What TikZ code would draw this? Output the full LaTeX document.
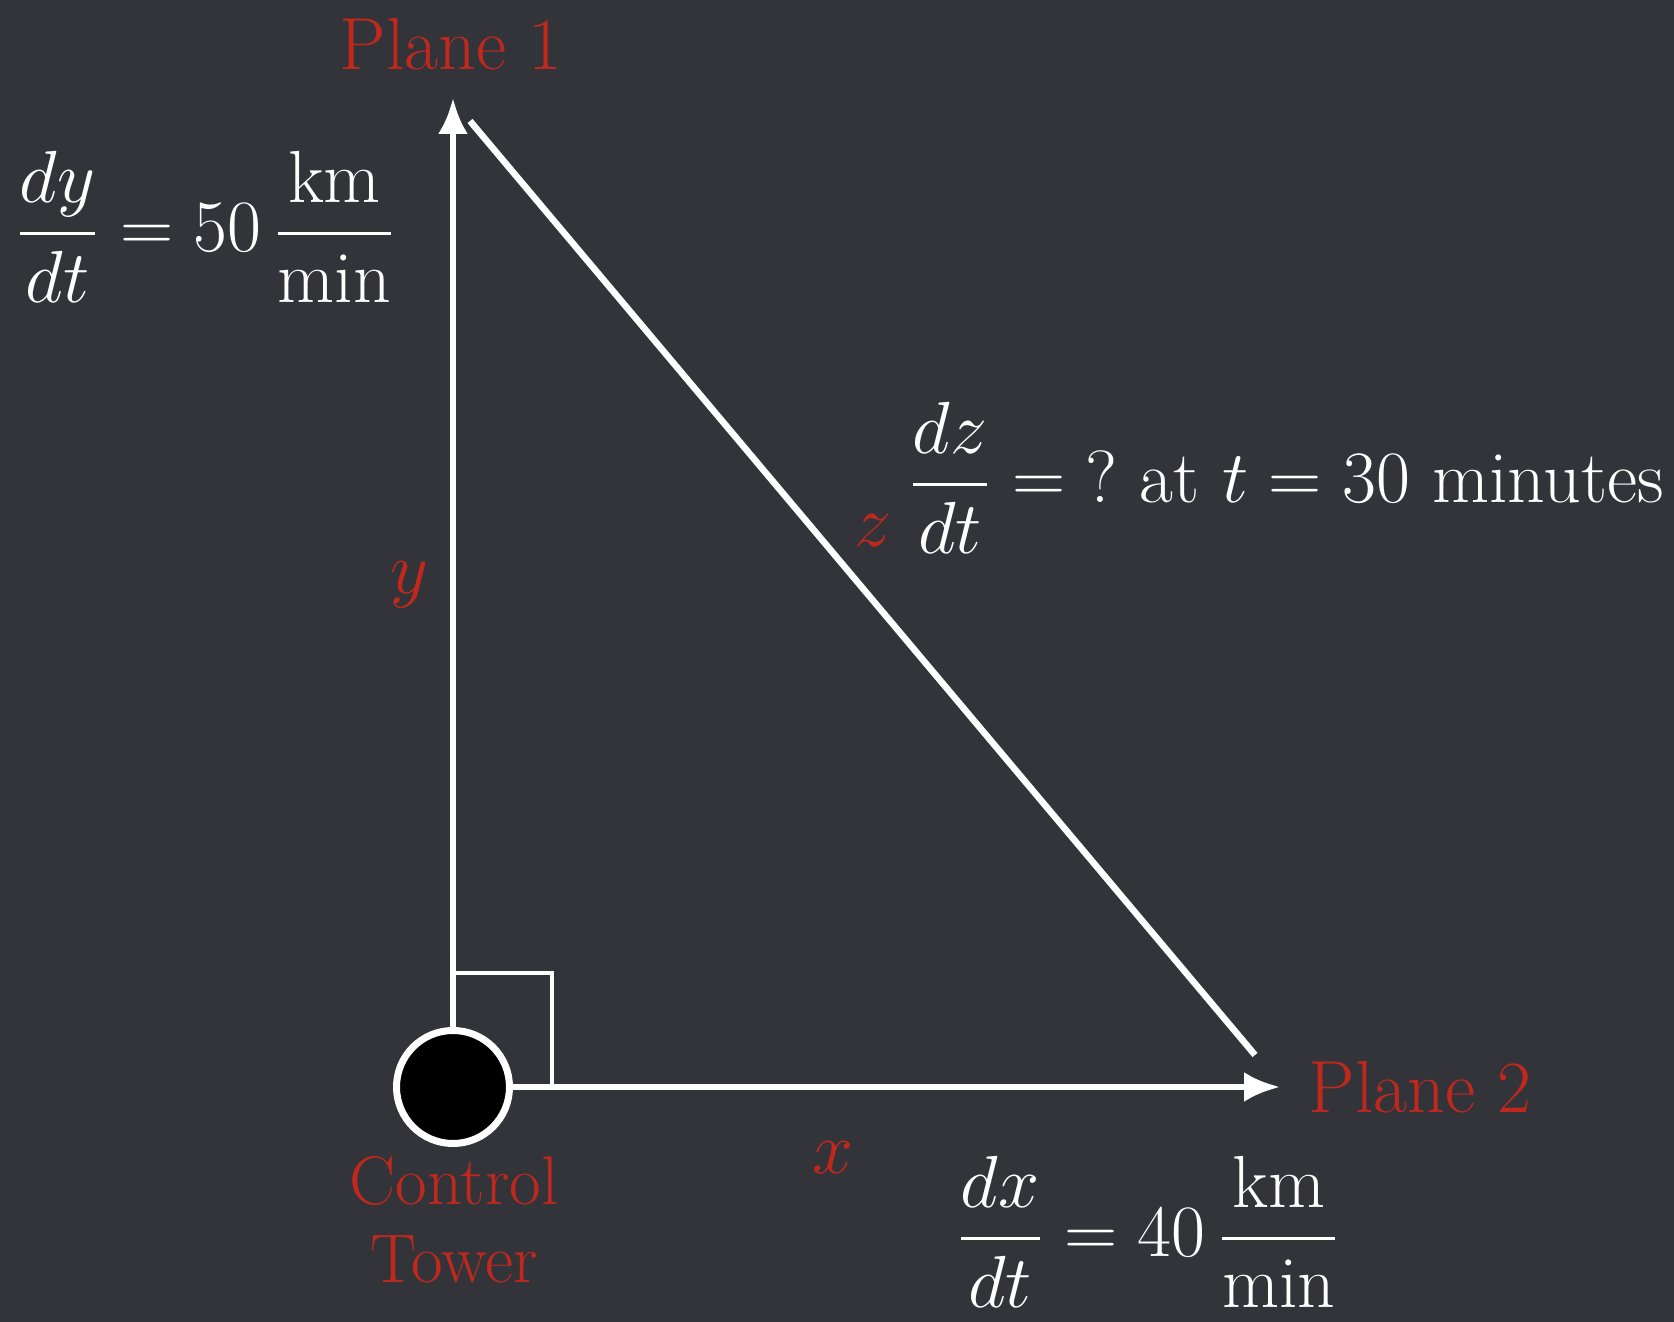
\RequirePackage{fix-cm}
\documentclass[tikz,border=0pt]{standalone}
\usepackage{amsmath}
\usetikzlibrary{arrows.meta}
\definecolor{board}{RGB}{51,52,57}
\definecolor{chalkred}{RGB}{192,40,30}
\begin{document}
\begin{tikzpicture}[x=1cm,y=1cm,
  every node/.style={font=\fontsize{21}{23.5}\selectfont,text=white,inner sep=0pt},
  leg/.style={white,line width=0.065cm},
  axisarrow/.style={leg,-{Latex[length=0.36cm,width=0.3cm]}},
  towerdot/.style={circle,fill=black,draw=white,line width=0.07cm,minimum size=1.13cm},
  redlabel/.style={text=chalkred}]
\fill[board] (0,0) rectangle (16.74,13.22);
% right angle mark
\draw[white,line width=0.04cm] (4.53,2.35) rectangle (5.52,3.49);
\node[towerdot] (tower) at (4.53,2.35) {};
\coordinate (plane1) at (4.53,12.24);
\coordinate (plane2) at (12.80,2.35);
\coordinate (zstart) at (4.70,12.01);
\coordinate (zend) at (12.55,2.67);
\draw[axisarrow] (tower) -- (plane1);
\draw[axisarrow] (tower) -- (plane2);
\draw[leg] (zstart) -- (zend);
% labels
\node[redlabel,anchor=base] (p1) at (4.51,12.52) {Plane 1};
\node[redlabel,anchor=base west] (p2) at (13.08,2.09) {Plane 2};
\node[redlabel,anchor=base,align=center,font=\fontsize{19.6}{22.2}\selectfont] (ct) at (4.54,0.39) {Control\\Tower};
\node[redlabel] (ylbl) at (4.09,7.37) {$y$};
\node[redlabel] (xlbl) at (8.33,1.64) {$x$};
\node[redlabel] (zlbl) at (8.73,7.91) {$z$};
% rates
\node[anchor=base west] (dydt) at (0.15,10.70) {$\displaystyle\frac{dy}{dt} = 50\,\frac{\text{km}}{\text{min}}$};
\node[anchor=base west] (dzdt) at (9.08,8.19) {$\displaystyle\frac{dz}{dt} = {?}\ \text{at}\ t = 30\ \text{minutes}$};
\node[anchor=base west] (dxdt) at (9.56,0.65) {$\displaystyle\frac{dx}{dt} = 40\,\frac{\text{km}}{\text{min}}$};
\end{tikzpicture}
\end{document}
